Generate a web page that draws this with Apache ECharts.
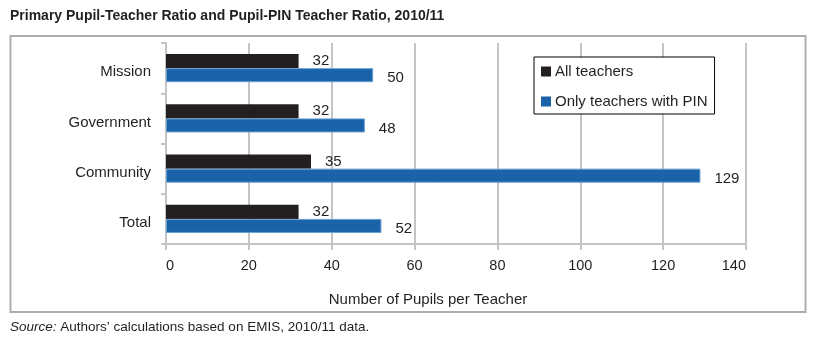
<!DOCTYPE html>
<html>
<head>
<meta charset="utf-8">
<script src="https://cdn.jsdelivr.net/npm/echarts@6/dist/echarts.min.js"></script>
<style>
  html, body { margin: 0; padding: 0; background: #fff; }
  #chart { width: 818px; height: 346px; }
</style>
</head>
<body>
<div id="chart"></div>
<script>
// Pupil-teacher ratios by school type, 2010/11
const categories = ['Mission', 'Government', 'Community', 'Total'];
const allTeachers = [32, 32, 35, 32];
const pinTeachers = [50, 48, 129, 52];
const xTicks = { min: 0, max: 140, interval: 20 };

const FONT = '"Liberation Sans", Arial, Helvetica, sans-serif';
const TEXT = '#231f20';
const GRID = '#c4c4c6';

const chart = echarts.init(document.getElementById('chart'), null, { renderer: 'canvas' });

chart.setOption({
  animation: false,
  backgroundColor: '#fff',
  textStyle: { fontFamily: FONT, color: TEXT },
  title: [
    {
      text: 'Primary Pupil-Teacher Ratio and Pupil-PIN Teacher Ratio, 2010/11',
      left: 5, top: 4,
      textStyle: { fontFamily: FONT, fontSize: 14, fontWeight: 'bold', color: TEXT }
    },
    {
      text: 'Number of Pupils per Teacher',
      left: 423, top: 287, textAlign: 'center',
      textStyle: { fontFamily: FONT, fontSize: 15, fontWeight: 'normal', color: TEXT }
    },
    {
      text: '{i|Source:} Authors\u2019 calculations based on EMIS, 2010/11 data.',
      left: 5, top: 315,
      textStyle: {
        fontFamily: FONT, fontSize: 13.5, fontWeight: 'normal', color: TEXT,
        rich: { i: { fontFamily: FONT, fontSize: 13.5, fontStyle: 'italic', color: TEXT } }
      }
    }
  ],
  graphic: [
    {
      type: 'rect',
      shape: { x: 10.5, y: 36, width: 795, height: 276 },
      style: { fill: 'none', stroke: '#adadad', lineWidth: 2 },
      silent: true, z: -1
    }
  ],
  legend: {
    orient: 'vertical',
    left: 534, top: 57,
    backgroundColor: '#fff',
    borderColor: '#000', borderWidth: 1,
    padding: [7, 7, 5, 7],
    itemWidth: 10, itemHeight: 10, itemGap: 15,
    icon: 'rect',
    itemStyle: { borderWidth: 0 },
    textStyle: { fontFamily: FONT, fontSize: 15, color: TEXT, padding: [0, 0, 0, -1] },
    data: ['All teachers', 'Only teachers with PIN']
  },
  grid: { left: 166, right: 72, top: 43, bottom: 102, containLabel: false },
  xAxis: {
    type: 'value',
    min: xTicks.min, max: xTicks.max, interval: xTicks.interval,
    axisLine: { show: true, lineStyle: { color: GRID, width: 2 } },
    axisTick: { show: true, length: 6, lineStyle: { color: GRID, width: 2 } },
    splitLine: { show: true, lineStyle: { color: GRID, width: 2 } },
    axisLabel: {
      fontFamily: FONT, fontSize: 14.5, color: TEXT, margin: 14,
      alignMinLabel: 'left', alignMaxLabel: 'right'
    }
  },
  yAxis: {
    type: 'category',
    data: categories,
    inverse: true,
    axisLine: { show: true, lineStyle: { color: GRID, width: 2 } },
    axisTick: { show: true, length: 5, lineStyle: { color: GRID, width: 2 } },
    axisLabel: {
      fontFamily: FONT, fontSize: 15, color: TEXT, margin: 15,
      verticalAlign: 'top', lineHeight: 8
    }
  },
  series: [
    {
      name: 'All teachers',
      type: 'bar',
      data: allTeachers,
      barGap: '0%',
      barCategoryGap: '44%',
      itemStyle: { color: '#231f20' },
      label: {
        show: true, position: 'right', distance: 14,
        fontFamily: FONT, fontSize: 15, color: TEXT
      }
    },
    {
      name: 'Only teachers with PIN',
      type: 'bar',
      data: pinTeachers,
      barGap: '0%',
      barCategoryGap: '44%',
      itemStyle: { color: '#1b63a8', borderColor: '#6a9fd2', borderWidth: 1 },
      label: {
        show: true, position: 'right', distance: 14, offset: [0, 3],
        fontFamily: FONT, fontSize: 15, color: TEXT
      }
    }
  ]
});
</script>
</body>
</html>
